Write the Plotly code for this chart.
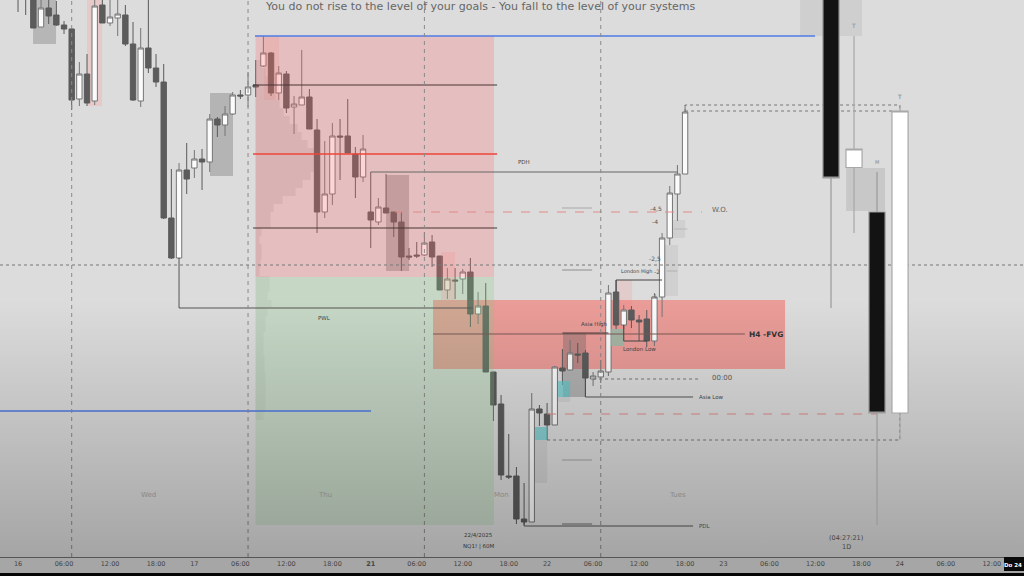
import plotly.graph_objects as go

# ---------- hourly series (bar number, prices) ----------
open_h = [19040,19040,19010,18973,18992,18985,18975,18971,18901,18926,18899,18995,18977,18982,18985,18956,18899,18952,18932,18918,
          18782,18742,18830,18832,18841,18838,18881,18875,18886,18905,18905,18915,18934,18947,18907,18926,18893,18895,18903,18870,
          18788,18806,18864,18864,18846,18823,18788,18778,18792,18788,18778,18744,18745,18745,18758,18744,18710,18720,18721,18728,
          18686,18694,18628,18596,18524,18524,18481,18478,18591,18586,18575,18632,18630,18646,18647,18621,18623,18628,18708,18675,
          18690,18680,18681,18659,18703,18762,18806,18826]
high_h = [19050,19050,19020,19002,19001,18999,18979,18972,18938,18946,19002,19010,19000,19002,18995,18978,18972,19010,18946,18936,
          18831,18837,18857,18850,18851,18886,18883,18894,18908,18910,18928,18940,18964,18948,18934,18929,18904,18950,18911,18881,
          18859,18877,18881,18901,18853,18865,18828,18802,18826,18788,18788,18752,18758,18768,18765,18744,18732,18732,18731,18742,
          18708,18717,18628,18605,18566,18533,18517,18607,18595,18597,18634,18651,18660,18657,18650,18628,18640,18715,18720,18695,
          18694,18685,18690,18707,18767,18814,18835,18895]
low_h = [18988,18985,18972,18973,18976,18974,18966,18890,18894,18894,18895,18977,18974,18964,18954,18899,18893,18927,18913,18781,
         18741,18741,18806,18822,18810,18828,18863,18864,18885,18901,18893,18903,18933,18904,18900,18887,18866,18895,18871,18767,
         18782,18795,18820,18847,18802,18818,18752,18775,18787,18763,18729,18740,18742,18744,18733,18710,18701,18701,18706,18673,
         18676,18628,18579,18520,18521,18476,18475,18478,18574,18560,18575,18615,18630,18637,18603,18614,18617,18624,18671,18671,
         18672,18659,18653,18654,18683,18755,18779,18826]
close_h = [19020,19020,18972,18992,18984,18975,18971,18900,18926,18897,18994,18977,18983,18986,18956,18900,18952,18932,18918,18782,
           18742,18830,18821,18841,18838,18881,18875,18886,18905,18904,18913,18913,18947,18907,18927,18892,18896,18903,18871,18788,
           18806,18864,18863,18847,18823,18851,18780,18793,18787,18778,18743,18743,18744,18757,18743,18710,18721,18719,18728,18686,
           18694,18628,18595,18525,18523,18481,18478,18591,18587,18575,18633,18629,18647,18645,18622,18624,18629,18707,18675,18690,
           18680,18678,18659,18703,18762,18807,18826,18888]

# ---------- daily series ----------
open_d = [19060,18832.5,18788,18587]
high_d = [19070,18964,18828,18895]
low_d = [18692,18767,18475,18560]
close_d = [18822,18851,18587,18889]

# ---------- axis ----------
tick_bars = [0,6,12,18,23,29,35,41,46,52,58,64,69,75,81,87,92,98,104,110,115,121,127]
tick_text = ["16","06:00","12:00","18:00","17","06:00","12:00","18:00","<b>21</b>","06:00","12:00","18:00",
             "22","06:00","12:00","18:00","23","06:00","12:00","18:00","24","06:00","12:00"]
session_bars = [7,30,53,76]
X_RANGE = [-2.35,131.2]
Y_RANGE = [18443,19000]

# ---------- volume profile ----------
profile_price = [18936,18928,18920,18912,18904,18896,18888,18880,18872,18864,18856,18848,18840,18832,18824,18816,18808,18800,
                 18792,18784,18776,18768,18760,18752,18744,18736,18728,18720,18712,18704,18696,18688,18680,18672,18664,18656,
                 18648,18640,18632,18624,18616,18608,18600,18592,18584]
profile_vol = [6,10,14,17,20,24,28,34,42,46,52,62,63,63,55,47,40,27,18,15,15,6,4,6,6,5,4,14,14,12,16,12,10,10,8,8,
               8,9,9,10,10,10,10,10,8]
PROFILE_SCALE = 7.667

# ---------- zones: bar0, bar1, price top, price bottom, colour ----------
under_zones = [
    (1.96,4.96,19000,18956,"#b6b6b6"),
    (9,10.96,19000,18894,"#e6c9c9"),
    (25.04,28.04,18907,18824,"#b4b4b4"),
    (48,51,18825,18729,"#b0b0b0"),
    (54.13,100.04,18700,18631,"rgba(255,60,50,0.40)"),
    (71.08,74.08,18667,18603,"rgba(90,90,90,0.33)"),
    (78.13,80.08,18720,18660,"rgba(255,130,130,0.18)"),
    (84,86.08,18755,18704,"rgba(170,170,170,0.25)"),
    (85.3,87,18780,18762,"rgba(170,170,170,0.25)"),
    (67.43,69,18560,18517,"rgba(170,170,170,0.25)"),
    (70.43,72,18603,18598,"rgba(170,170,170,0.25)"),
    (108,113.08,18832,18789,"#c8c8c8"),
    (102,110.08,19000,18964,"#cfcfcf"),
]
over_zones = [
    (30.98,62.08,18964,18723,"rgba(255,105,105,0.25)"),
    (30.98,62.08,18723,18475,"rgba(130,200,130,0.25)"),
    (32.09,34.04,18964,18900,"rgba(255,100,100,0.12)"),
    (55.17,57,18748,18700,"rgba(255,130,130,0.18)"),
    (77.34,79.04,18671,18654,"rgba(140,190,170,0.75)"),
    (70.43,72,18619,18603,"rgba(90,200,205,0.65)"),
    (67.43,69,18573,18560,"rgba(90,200,205,0.65)"),
]

# ---------- levels: bars, prices, colour, width, dash ----------
levels = [
    ([30.91,103.95],[18964,18964],"#4f7be6",1.6,"solid"),
    ([-2.35,46.04],[18589,18589],"#4f7be6",1.6,"solid"),
    ([30.65,62.48],[18915,18915],"#4a3535",1.2,"solid"),
    ([30.65,62.48],[18846,18846],"#ee4438",1.6,"solid"),
    ([30.65,62.48],[18772,18772],"#4a3535",1.2,"solid"),
    ([46,86],[18828,18828],"#666666",1,"solid"),
    ([21,21,59.3],[18742,18692,18692],"#555555",1,"solid"),
    ([54.13,94.8],[18666,18666],"#7a5a55",1,"solid"),
    ([71,77],[18667,18667],"#4a3a3a",1,"solid"),
    ([78,78,84],[18708,18720,18720],"#444444",1,"solid"),
    ([79,79,82],[18675,18659,18659],"#444444",1,"solid"),
    ([74,74,88.04],[18622,18603,18603],"#555555",1,"solid"),
    ([66,66,88.04],[18478,18474,18474],"#555555",1,"solid"),
    ([75,88.95],[18621,18621],"#777777",1,"dot"),
    ([49.17,89.2],[18788,18788],"#e08a88",1,"dash"),
    ([69,112],[18586,18586],"#e08a88",1,"dash"),
    ([69,115,115],[18560,18560,18587],"#777777",1,"dot"),
    ([87,114],[18889,18889],"#777777",1,"dot"),
    ([87,87,115,115],[18888,18895,18895,18889],"#777777",1,"dot"),
    ([70.95,74.87],[18792,18792],"#a8a8a8",1,"solid"),
    ([70.95,74.87],[18730,18730],"#a8a8a8",1.5,"solid"),
    ([70.95,74.87],[18540,18540],"#a0a0a0",1,"solid"),
    ([70.95,74.87],[18476,18476],"#909090",1.5,"solid"),
    ([85.5,87.3],[18771,18771],"#b8b8b8",1,"solid"),
    ([84.6,86],[18729,18729],"#b0b0b0",1,"solid"),
]

# ---------- text: label, bar, price, size, colour ----------
notes = [
    ("You do not rise to the level of your goals - You fall to the level of your systems",60.33,18993.5,11,"#666666"),
    ("PDH",66,18838,5.5,"#444444"),("PWL",40,18682,5.5,"#444444"),
    ("<b>H4 -FVG</b>",97.6,18666,7.5,"#333333"),("Asia High",75.1,18676,5.5,"#444444"),
    ("London High",80.6,18729,5,"#444444"),("London Low",81,18651,5.5,"#444444"),
    ("Asia Low",90.5,18603,5.5,"#444444"),("PDL",89.6,18474,5.5,"#444444"),
    ("00:00",91.8,18622,7,"#555555"),("W.O.",91.5,18790,7,"#666666"),
    ("-4,5",83.2,18792,6,"#555555"),("-4",83.1,18779,6,"#555555"),
    ("-2,5",83.1,18742,6,"#555555"),("-2",83.4,18729,6,"#555555"),("-1",83,18704,5,"#666666"),
    ("Wed",17,18505,7,"#888888"),("Thu",40,18505,7,"#888888"),("Mon",63,18505,7,"#888888"),("Tues",86,18505,7,"#888888"),
    ("22/4/2025",60,18465,5.5,"#333333"),("NQ1! | 60M",60,18454,5.5,"#333333"),
    ("(04:27:21)",108,18462,6.5,"#444444"),("1D",108,18453,6.5,"#444444"),
    ("T",109,18975,6,"#888888"),("T",115,18904,6,"#777777"),("M",112,18838,5,"#888888"),
]

fig = go.Figure()
def rect(z):
    fig.add_trace(go.Scatter(x=[z[0],z[1],z[1],z[0],z[0]],y=[z[2],z[2],z[3],z[3],z[2]],mode="none",fill="toself",
                             fillcolor=z[4],hoverinfo="skip",showlegend=False))

profile_colors = ["rgba(120,120,120,0.15)" if p > 18723 else "rgba(120,120,120,0.08)" for p in profile_price]
fig.add_trace(go.Bar(y=profile_price,x=[v/PROFILE_SCALE for v in profile_vol],base=30.98,orientation="h",width=8,
                     marker=dict(color=profile_colors,line=dict(width=0)),hoverinfo="skip",showlegend=False))
fig.add_trace(go.Candlestick(x=list(range(len(open_h))),open=open_h,high=high_h,low=low_h,close=close_h,whiskerwidth=0,
    increasing=dict(line=dict(color="#757575",width=1),fillcolor="#fbfbfb"),
    decreasing=dict(line=dict(color="#5a5a5a",width=1),fillcolor="#5c5c5c"),showlegend=False))
for z in over_zones:
    rect(z)
for xs,ys,c,w,d in levels:
    fig.add_trace(go.Scatter(x=xs,y=ys,mode="lines",line=dict(color=c,width=w,dash=d),hoverinfo="skip",showlegend=False))
for b in session_bars:
    fig.add_trace(go.Scatter(x=[b,b],y=Y_RANGE,mode="lines",line=dict(color="#8a8a8a",width=1,dash="4px,4px"),hoverinfo="skip",showlegend=False))
fig.add_trace(go.Scatter(x=X_RANGE,y=[18735,18735],mode="lines",line=dict(color="#777777",width=1,dash="3px,3px"),hoverinfo="skip",showlegend=False))
fig.add_trace(go.Scatter(x=[X_RANGE[0],X_RANGE[1],X_RANGE[1],X_RANGE[0],X_RANGE[0]],y=[18700,18700,Y_RANGE[0],Y_RANGE[0],18700],mode="none",fill="toself",
    fillgradient=dict(type="vertical",colorscale=[[0,"rgba(0,0,0,0.25)"],[1,"rgba(0,0,0,0)"]]),hoverinfo="skip",showlegend=False))

fig.add_trace(go.Candlestick(x=[0,1,2,3],open=open_d,high=high_d,low=low_d,close=close_d,whiskerwidth=0,xaxis="x2",
    increasing=dict(line=dict(color="#a8a8a8",width=1.2),fillcolor="#ffffff"),
    decreasing=dict(line=dict(color="#9a9a9a",width=1.2),fillcolor="#131313"),showlegend=False))

shapes = [dict(type="rect",layer="below",xref="x",yref="y",x0=z[0],x1=z[1],y0=z[3],y1=z[2],fillcolor=z[4],line=dict(width=0)) for z in under_zones]
shapes.append(dict(type="rect",layer="above",xref="paper",yref="paper",x0=0,x1=1,y0=-19/557,y1=-16/557,fillcolor="#050505",line=dict(width=0)))
shapes.append(dict(type="rect",layer="above",xref="paper",yref="paper",x0=1004/1024,x1=1,y0=-14/557,y1=0,fillcolor="#0a0a0a",line=dict(width=0)))

ann = [dict(text=t,x=x,y=y,xref="x",yref="y",showarrow=False,xanchor="center",yanchor="middle",
            font=dict(size=s,color=c,family="DejaVu Sans")) for t,x,y,s,c in notes]
ann.append(dict(text="<b>Do 24</b>",x=1,y=-8/557,xref="paper",yref="paper",xanchor="right",yanchor="middle",showarrow=False,
                font=dict(size=5.5,color="#ffffff",family="DejaVu Sans")))

fig.update_layout(width=1024,height=576,margin=dict(l=0,r=0,t=0,b=19),paper_bgcolor="#a6a6a6",plot_bgcolor="#dcdcdc",
    boxgap=0.3,boxgroupgap=0,barmode="overlay",showlegend=False,shapes=shapes,annotations=ann,
    xaxis=dict(range=X_RANGE,tickvals=tick_bars,ticktext=tick_text,tickfont=dict(size=6.5,color="#444444",family="DejaVu Sans"),
               showgrid=False,zeroline=False,showline=True,linecolor="#555555",linewidth=1,ticks="",rangeslider=dict(visible=False)),
    xaxis2=dict(range=[-36.13,8.39],overlaying="x",visible=False,rangeslider=dict(visible=False)),
    yaxis=dict(range=Y_RANGE,visible=False,showgrid=False,zeroline=False))
fig.write_html("out.html",config=dict(displayModeBar=False),post_script="document.body.style.margin='0';document.body.style.overflow='hidden';")
